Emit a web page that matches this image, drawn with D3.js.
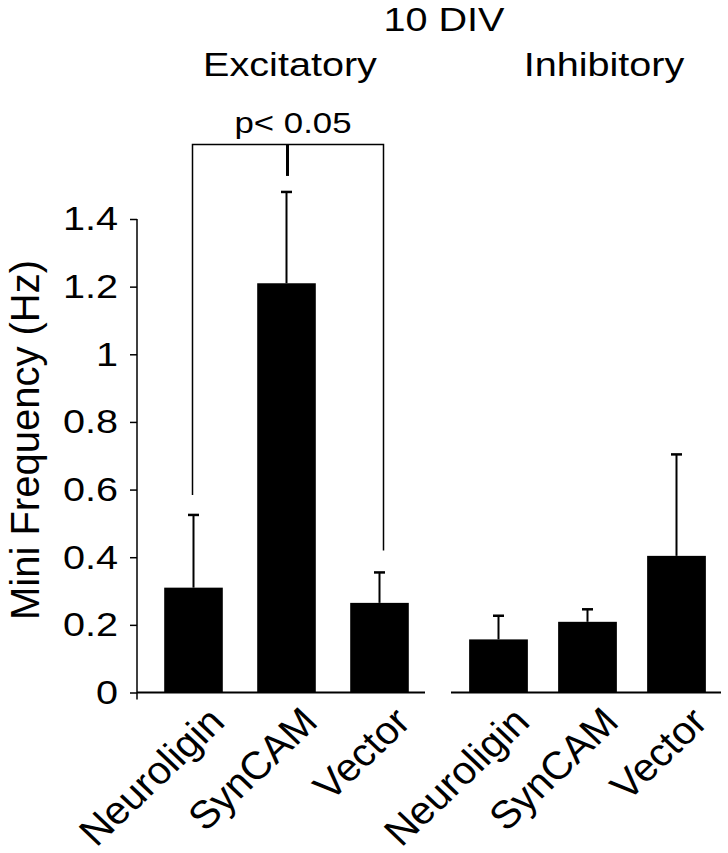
<!DOCTYPE html>
<html>
<head>
<meta charset="utf-8">
<script src="https://d3js.org/d3.v7.min.js"></script>
<style>
  body { margin: 0; background: #fff; }
  svg text { font-family: "Liberation Sans", Arial, Helvetica, sans-serif; fill: #000; }
</style>
</head>
<body>
<div id="chart"></div>
<script>
// data (10 DIV, mini frequency in Hz)
var groups = ["Neuroligin", "SynCAM", "Vector"];
var excMean = [0.31, 1.21, 0.265];
var excSem  = [0.215, 0.27, 0.09];
var inhMean = [0.157, 0.209, 0.404];
var inhSem  = [0.07, 0.037, 0.30];
var yTicks  = [0, 0.2, 0.4, 0.6, 0.8, 1, 1.2, 1.4];
var pLabel  = "p< 0.05";

var width = 728, height = 853;
var sx = 1.2;   // the figure's text is stretched sideways

var svg = d3.select("#chart").append("svg")
    .attr("width", width)
    .attr("height", height);

var y = d3.scaleLinear().domain([0, 1.4]).range([692.5, 219]);

var xExc = d3.scaleBand().domain(groups).range([147, 426])
    .paddingInner(0.37).paddingOuter(0.185);
var xInh = d3.scaleBand().domain(groups).range([454, 721])
    .paddingInner(0.34).paddingOuter(0.17);

// y axis
var yAxis = d3.axisLeft(y)
    .tickValues(yTicks)
    .tickSize(7)
    .tickSizeOuter(0)
    .tickFormat(function(d) { return d3.format("~g")(d); });

var ax = svg.append("g")
    .attr("transform", "translate(137,0)")
    .call(yAxis);
ax.select(".domain").remove();
ax.selectAll(".tick line").attr("stroke", "#000").attr("stroke-width", 1.5);
ax.selectAll(".tick text")
    .attr("x", null)
    .attr("dy", "0.33em")
    .attr("transform", "translate(-19,0) scale(" + sx + ",1)")
    .style("font-size", "33px")
    .style("text-anchor", "end");

svg.append("line")
    .attr("x1", 137).attr("x2", 137)
    .attr("y1", y(1.4)).attr("y2", y(0) + 7)
    .attr("stroke", "#000").attr("stroke-width", 1.5);

// baselines
svg.append("line")
    .attr("x1", 137).attr("x2", 425)
    .attr("y1", y(0)).attr("y2", y(0))
    .attr("stroke", "#000").attr("stroke-width", 2);
svg.append("line")
    .attr("x1", 451).attr("x2", 721)
    .attr("y1", y(0)).attr("y2", y(0))
    .attr("stroke", "#000").attr("stroke-width", 2);

function drawPanel(x, means, sems) {
  var data = groups.map(function(g, i) { return {name: g, mean: means[i], sem: sems[i]}; });
  var g = svg.append("g");

  g.selectAll(".err")
    .data(data).enter().append("line")
      .attr("x1", function(d) { return x(d.name) + x.bandwidth() / 2; })
      .attr("x2", function(d) { return x(d.name) + x.bandwidth() / 2; })
      .attr("y1", function(d) { return y(d.mean); })
      .attr("y2", function(d) { return y(d.mean + d.sem); })
      .attr("stroke", "#000").attr("stroke-width", 2);

  g.selectAll(".cap")
    .data(data).enter().append("line")
      .attr("x1", function(d) { return x(d.name) + x.bandwidth() / 2 - 5.5; })
      .attr("x2", function(d) { return x(d.name) + x.bandwidth() / 2 + 5.5; })
      .attr("y1", function(d) { return y(d.mean + d.sem); })
      .attr("y2", function(d) { return y(d.mean + d.sem); })
      .attr("stroke", "#000").attr("stroke-width", 2.5);

  g.selectAll("rect")
    .data(data).enter().append("rect")
      .attr("x", function(d) { return x(d.name); })
      .attr("y", function(d) { return y(d.mean); })
      .attr("width", x.bandwidth())
      .attr("height", function(d) { return y(0) - y(d.mean); })
      .attr("fill", "#000");

  g.selectAll(".xlab")
    .data(data).enter().append("text")
      .attr("transform", function(d) {
        return "translate(" + (x(d.name) + x.bandwidth() / 2 + 33) + ",724) scale(1.05,1) rotate(-45)";
      })
      .style("text-anchor", "end")
      .style("font-size", "39px")
      .text(function(d) { return d.name; });
}

drawPanel(xExc, excMean, excSem);
drawPanel(xInh, inhMean, inhSem);

// significance bracket
var cx = function(name) { return xExc(name) + xExc.bandwidth() / 2; };
var brY = y(1.62);
var path = d3.path();
path.moveTo(cx("Neuroligin") - 1, y(excMean[0] + excSem[0]) - 20);
path.lineTo(cx("Neuroligin") - 1, brY);
path.lineTo(cx("Vector") + 4, brY);
path.lineTo(cx("Vector") + 4, y(excMean[2] + excSem[2]) - 22);
svg.append("path")
    .attr("d", path.toString())
    .attr("fill", "none")
    .attr("stroke", "#000").attr("stroke-width", 1.5);
svg.append("line")
    .attr("x1", cx("SynCAM") + 1).attr("x2", cx("SynCAM") + 1)
    .attr("y1", brY).attr("y2", y(excMean[1] + excSem[1]) - 16)
    .attr("stroke", "#000").attr("stroke-width", 3);

svg.append("text")
    .attr("transform", "translate(293,133) scale(" + sx + ",1)")
    .style("text-anchor", "middle")
    .style("font-size", "29px")
    .text(pLabel);

// titles
svg.append("text")
    .attr("transform", "translate(444,31) scale(" + sx + ",1)")
    .style("text-anchor", "middle")
    .style("font-size", "33px")
    .text("10 DIV");
svg.append("text")
    .attr("transform", "translate(290,76) scale(" + sx + ",1)")
    .style("text-anchor", "middle")
    .style("font-size", "33px")
    .text("Excitatory");
svg.append("text")
    .attr("transform", "translate(604,76) scale(" + sx + ",1)")
    .style("text-anchor", "middle")
    .style("font-size", "33px")
    .text("Inhibitory");

// y axis title
svg.append("text")
    .attr("transform", "translate(39,440) rotate(-90)")
    .style("text-anchor", "middle")
    .style("font-size", "40px")
    .text("Mini Frequency (Hz)");
</script>
</body>
</html>
